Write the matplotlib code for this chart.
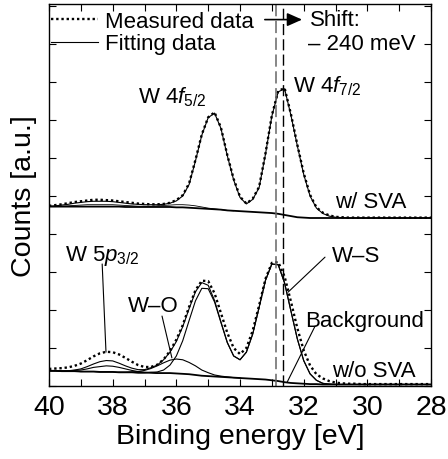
import matplotlib
matplotlib.use("Agg")
import matplotlib.pyplot as plt
from matplotlib.lines import Line2D
from matplotlib.ticker import MultipleLocator, NullFormatter

plt.rcParams['font.family'] = ['Liberation Sans', 'DejaVu Sans']
plt.rcParams['mathtext.fontset'] = 'custom'
plt.rcParams['mathtext.rm'] = 'Liberation Sans'
plt.rcParams['mathtext.it'] = 'Liberation Sans:italic'

# binding energy grid [eV], 0.2 eV steps from 40 down to 28
energy = [40.0, 39.8, 39.6, 39.4, 39.2, 39.0, 38.8, 38.6, 38.4, 38.2,
          38.0, 37.8, 37.6, 37.4, 37.2, 37.0, 36.8, 36.6, 36.4, 36.2,
          36.0, 35.8, 35.6, 35.4, 35.2, 35.0, 34.8, 34.6, 34.4, 34.2,
          34.0, 33.8, 33.6, 33.4, 33.2, 33.0, 32.8, 32.6, 32.4, 32.2,
          32.0, 31.8, 31.6, 31.4, 31.2, 31.0, 30.8, 30.6, 30.4, 30.2,
          30.0, 29.8, 29.6, 29.4, 29.2, 29.0, 28.8, 28.6, 28.4, 28.2,
          28.0]

# w/ SVA (upper spectrum)
sva_measured = [4.74, 4.76, 4.78, 4.81, 4.84, 4.86, 4.88, 4.90, 4.90, 4.89,
                4.88, 4.86, 4.84, 4.82, 4.80, 4.79, 4.78, 4.78, 4.79, 4.82,
                4.89, 5.02, 5.33, 5.95, 6.62, 7.07, 7.20, 6.80, 6.08, 5.45,
                4.98, 4.80, 4.93, 5.24, 6.12, 7.12, 7.76, 7.84, 7.15, 6.35,
                5.60, 5.03, 4.70, 4.56, 4.49, 4.45, 4.44, 4.43, 4.43, 4.43,
                4.43, 4.43, 4.43, 4.43, 4.43, 4.43, 4.43, 4.43, 4.43, 4.43,
                4.43]
sva_fit = [4.73, 4.74, 4.76, 4.78, 4.81, 4.83, 4.85, 4.86, 4.86, 4.86,
           4.85, 4.83, 4.81, 4.79, 4.78, 4.77, 4.77, 4.77, 4.78, 4.81,
           4.87, 5.00, 5.30, 5.92, 6.60, 7.06, 7.18, 6.78, 6.06, 5.42,
           4.96, 4.79, 4.91, 5.22, 6.10, 7.10, 7.74, 7.82, 7.12, 6.32,
           5.57, 5.00, 4.68, 4.54, 4.47, 4.44, 4.43, 4.42, 4.42, 4.42,
           4.42, 4.42, 4.42, 4.42, 4.42, 4.42, 4.42, 4.42, 4.42, 4.42,
           4.42]
sva_background = [4.72, 4.72, 4.72, 4.72, 4.72, 4.72, 4.72, 4.72, 4.72, 4.72,
                  4.72, 4.72, 4.71, 4.71, 4.71, 4.71, 4.71, 4.71, 4.71, 4.71,
                  4.70, 4.70, 4.69, 4.68, 4.67, 4.66, 4.65, 4.64, 4.62, 4.61,
                  4.60, 4.59, 4.58, 4.57, 4.56, 4.55, 4.53, 4.50, 4.47, 4.44,
                  4.43, 4.42, 4.42, 4.42, 4.42, 4.42, 4.42, 4.42, 4.42, 4.42,
                  4.42, 4.42, 4.42, 4.42, 4.42, 4.42, 4.42, 4.42, 4.42, 4.42,
                  4.42]
# small component of the upper fit, 40 -> 34.2 eV
sva_minor = [4.72, 4.72, 4.73, 4.74, 4.75, 4.76, 4.77, 4.77, 4.77, 4.77,
             4.77, 4.76, 4.75, 4.74, 4.73, 4.73, 4.73, 4.74, 4.75, 4.76,
             4.77, 4.77, 4.76, 4.74, 4.71, 4.68, 4.66, 4.64, 4.62, 4.61]

# w/o SVA (lower spectrum)
raw_measured = [0.45, 0.46, 0.47, 0.49, 0.53, 0.59, 0.68, 0.78, 0.86, 0.90,
                0.89, 0.83, 0.74, 0.64, 0.55, 0.50, 0.50, 0.56, 0.70, 0.92,
                1.22, 1.60, 2.08, 2.52, 2.77, 2.76, 2.44, 1.92, 1.40, 1.00,
                0.84, 1.00, 1.46, 2.12, 2.82, 3.24, 3.26, 2.88, 2.22, 1.52,
                0.94, 0.54, 0.31, 0.20, 0.13, 0.09, 0.07, 0.06, 0.06, 0.05,
                0.05, 0.05, 0.05, 0.05, 0.05, 0.05, 0.05, 0.05, 0.05, 0.05,
                0.05]
raw_fit = [0.40, 0.40, 0.40, 0.40, 0.42, 0.45, 0.51, 0.58, 0.64, 0.67,
           0.66, 0.60, 0.53, 0.47, 0.43, 0.43, 0.48, 0.55, 0.69, 0.89,
           1.17, 1.56, 2.03, 2.48, 2.72, 2.65, 2.25, 1.69, 1.15, 0.79,
           0.69, 0.89, 1.37, 2.07, 2.78, 3.21, 3.19, 2.71, 1.97, 1.24,
           0.67, 0.32, 0.15, 0.07, 0.05, 0.04, 0.04, 0.04, 0.04, 0.04,
           0.04, 0.04, 0.04, 0.04, 0.04, 0.04, 0.04, 0.04, 0.04, 0.04,
           0.04]
raw_ws = [0.40, 0.40, 0.39, 0.39, 0.39, 0.38, 0.38, 0.38, 0.37, 0.37,
          0.37, 0.36, 0.36, 0.36, 0.35, 0.35, 0.36, 0.37, 0.42, 0.55,
          0.79, 1.19, 1.72, 2.24, 2.57, 2.56, 2.21, 1.67, 1.14, 0.79,
          0.69, 0.89, 1.37, 2.07, 2.78, 3.21, 3.19, 2.71, 1.97, 1.24,
          0.67, 0.32, 0.15, 0.07, 0.05, 0.04, 0.04, 0.04, 0.04, 0.04,
          0.04, 0.04, 0.04, 0.04, 0.04, 0.04, 0.04, 0.04, 0.04, 0.04,
          0.04]
raw_background = [0.40, 0.40, 0.39, 0.39, 0.39, 0.38, 0.38, 0.38, 0.37, 0.37,
                  0.37, 0.36, 0.36, 0.36, 0.35, 0.35, 0.35, 0.34, 0.34, 0.34,
                  0.33, 0.32, 0.31, 0.29, 0.27, 0.26, 0.25, 0.24, 0.23, 0.22,
                  0.21, 0.20, 0.19, 0.18, 0.17, 0.15, 0.13, 0.10, 0.08, 0.07,
                  0.06, 0.05, 0.05, 0.04, 0.04, 0.04, 0.04, 0.04, 0.04, 0.04,
                  0.04, 0.04, 0.04, 0.04, 0.04, 0.04, 0.04, 0.04, 0.04, 0.04,
                  0.04]
# W-O component, 37.8 -> 34.0 eV
raw_wo = [0.36, 0.36, 0.37, 0.38, 0.41, 0.46, 0.53, 0.61, 0.68, 0.71,
          0.69, 0.62, 0.53, 0.42, 0.35, 0.29, 0.26, 0.24, 0.22, 0.21]
# W 5p3/2 component, 40 -> 36.6 eV
raw_5p = [0.40, 0.40, 0.39, 0.40, 0.41, 0.42, 0.45, 0.49, 0.51, 0.53,
          0.52, 0.49, 0.45, 0.41, 0.38, 0.36, 0.35, 0.34]

peak_raw = 32.88
peak_sva = 32.64

fig = plt.figure(figsize=(4.48, 4.60), dpi=100)
ax = fig.add_axes([0.1094, 0.1587, 0.8527, 0.8304])

dotted = (0, (1, 1.2))
ax.plot(energy, sva_measured, color='k', lw=1.7, ls=dotted)
ax.plot(energy, sva_fit, color='k', lw=0.8)
ax.plot(energy[:30], sva_minor, color='k', lw=0.6)
ax.plot(energy, sva_background, color='k', lw=1.3)

ax.plot(energy, raw_measured, color='k', lw=1.7, ls=dotted)
ax.plot(energy, raw_fit, color='k', lw=0.8)
ax.plot(energy, raw_ws, color='k', lw=0.8)
ax.plot(energy[11:31], raw_wo, color='k', lw=0.8)
ax.plot(energy[:18], raw_5p, color='k', lw=0.8)
ax.plot(energy, raw_background, color='k', lw=1.3)

ax.axvline(peak_raw, color='0.4', lw=1.1, ls=(0, (8, 3)))
ax.axvline(peak_sva, color='k', lw=1.0, ls=(0, (8, 3)))

ax.set_xlim(40, 28)
ax.set_ylim(0, 10.05)
ax.xaxis.set_major_locator(MultipleLocator(2))
ax.xaxis.set_minor_locator(MultipleLocator(1))
ax.yaxis.set_major_locator(MultipleLocator(1))
ax.yaxis.set_major_formatter(NullFormatter())
ax.tick_params(which='both', direction='in', top=True, right=True,
               length=5, width=0.8)
ax.tick_params(axis='x', labelsize=20.5, pad=6)
for s in ax.spines.values():
    s.set_linewidth(1.0)

ax.set_xlabel('Binding energy [eV]', fontsize=20.5, labelpad=2)
ax.set_ylabel('Counts [a.u.]', fontsize=20.5, labelpad=5)

handles = [Line2D([], [], color='k', lw=1.7, ls=dotted),
           Line2D([], [], color='k', lw=0.8)]
ax.legend(handles, ['Measured data', 'Fitting data'], loc='upper left',
          bbox_to_anchor=(0.0, 0.987), frameon=False, fontsize=16,
          handlelength=2.1, handletextpad=0.3, labelspacing=0.05,
          borderaxespad=0.0, borderpad=0.1)

ax.annotate('', xy=(32.05, 9.64), xytext=(33.22, 9.64),
            arrowprops=dict(arrowstyle='-|>,head_length=0.45,head_width=0.2',
                            color='k', lw=1.2, mutation_scale=20,
                            shrinkA=0, shrinkB=0))
ax.text(31.8, 9.64, 'Shift:', fontsize=16, ha='left', va='center')
ax.text(31.86, 9.02, '\u2013 240 meV', fontsize=16, ha='left', va='center')

ax.text(37.2, 7.47, r'W $\mathit{4f}_{\mathit{5/2}}$', fontsize=16)
ax.text(32.33, 7.76, r'W $\mathit{4f}_{\mathit{7/2}}$', fontsize=16)
ax.text(31.01, 4.70, 'w/ SVA', fontsize=16)
ax.text(31.11, 0.26, 'w/o SVA', fontsize=16)
ax.text(31.96, 1.58, 'Background', fontsize=16)
ax.text(31.11, 3.29, 'W\u2013S', fontsize=16)
ax.text(37.52, 1.97, 'W\u2013O', fontsize=16)
ax.text(39.5, 3.32, r'W $\mathit{5p}_{\mathit{3/2}}$', fontsize=16)

pointer = dict(arrowstyle='-', color='k', lw=0.8, shrinkA=0, shrinkB=0)
ax.annotate('', xy=(38.21, 0.89), xytext=(38.33, 3.21), arrowprops=pointer)
ax.annotate('', xy=(36.14, 0.74), xytext=(36.45, 1.84), arrowprops=pointer)
ax.annotate('', xy=(32.49, 2.47), xytext=(31.33, 3.39), arrowprops=pointer)
ax.annotate('', xy=(32.52, 0.10), xytext=(31.64, 1.58), arrowprops=pointer)

fig.savefig('out.png', dpi=100)
